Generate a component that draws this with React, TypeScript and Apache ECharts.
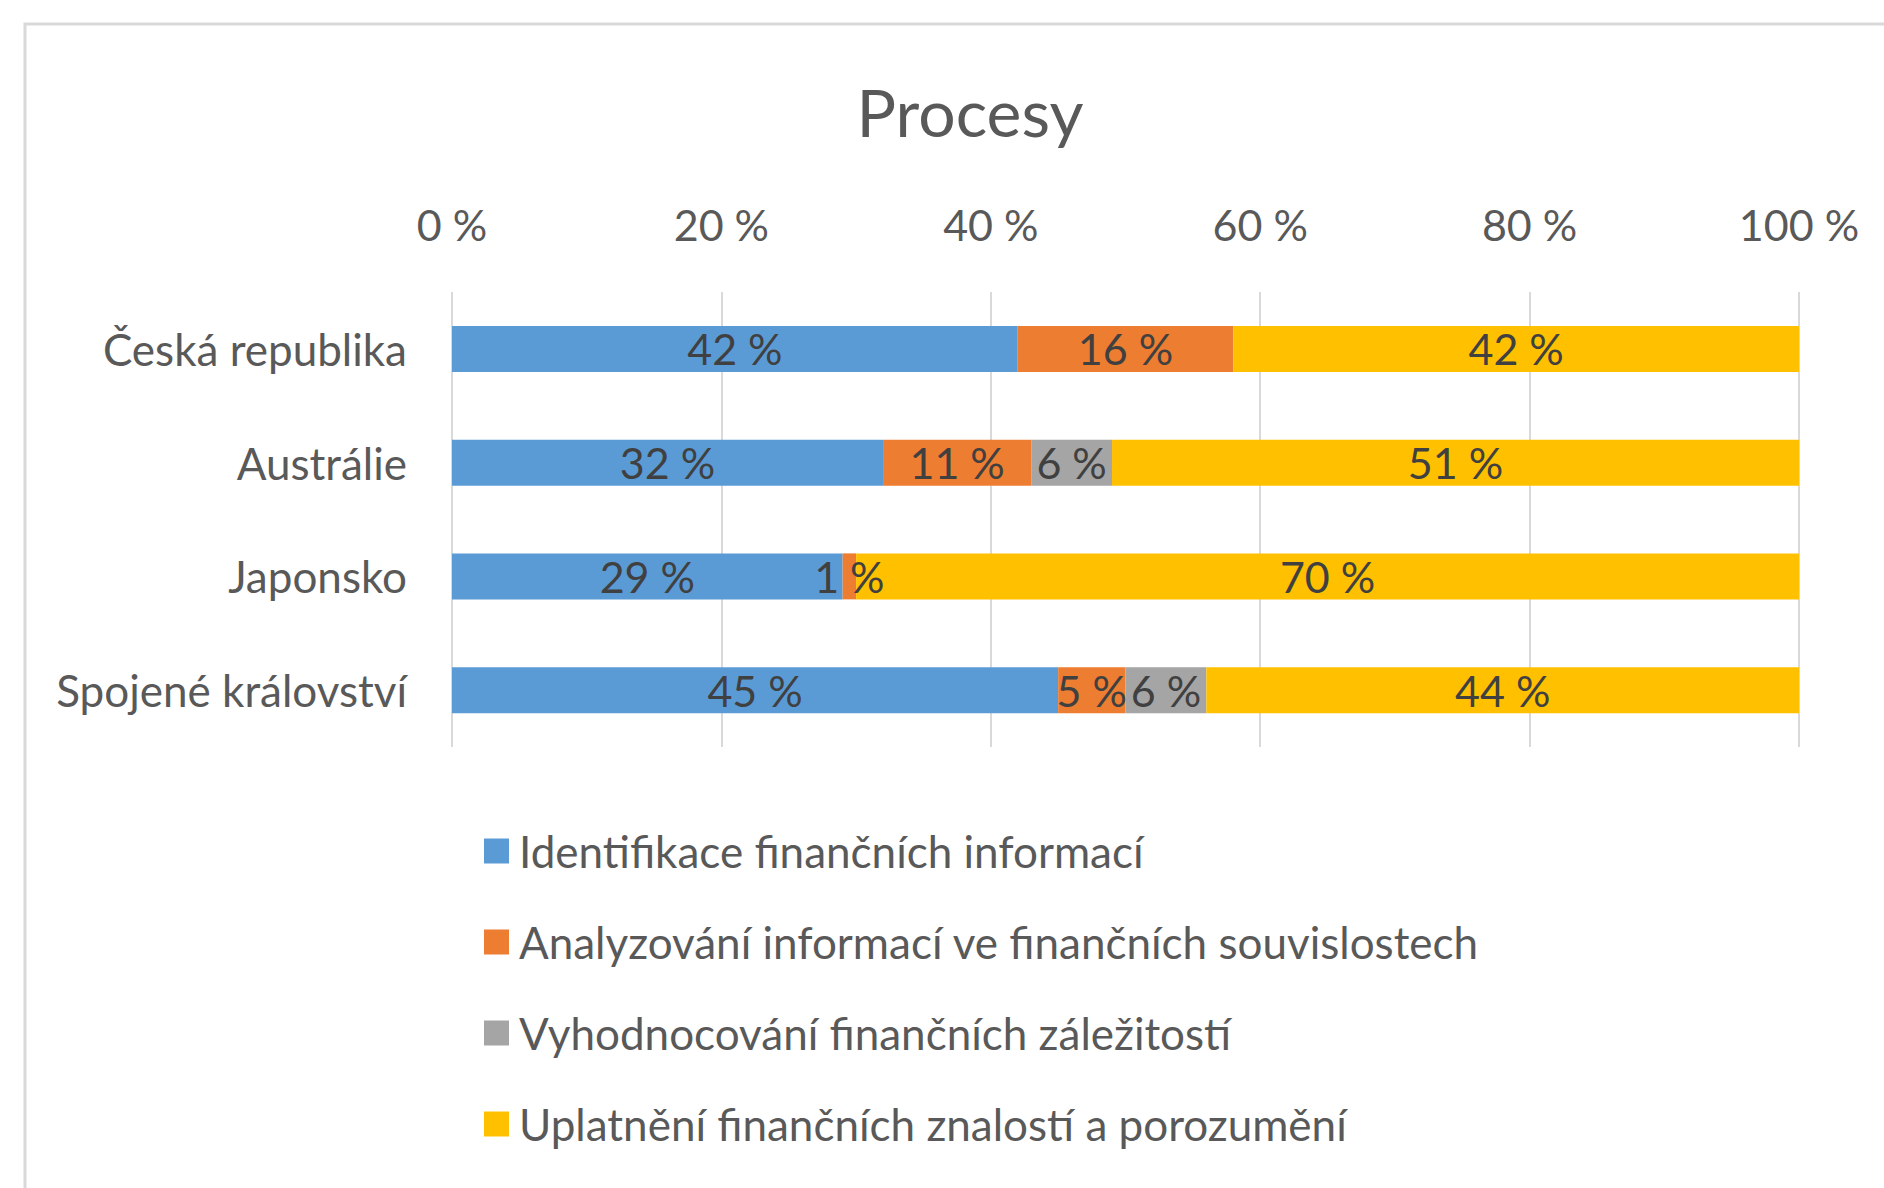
import React, { useEffect, useRef } from "react";
import * as echarts from "echarts";

const categories = ["Česká republika", "Austrálie", "Japonsko", "Spojené království"];
const seriesNames = [
  "Identifikace finančních informací",
  "Analyzování informací ve finančních souvislostech",
  "Vyhodnocování finančních záležitostí",
  "Uplatnění finančních znalostí a porozumění",
];
const identifikace = [42, 32, 29, 45];
const analyzovani = [16, 11, 1, 5];
const vyhodnocovani = [0, 6, 0, 6];
const uplatneni = [42, 51, 70, 44];
const colors = ["#5B9BD5", "#ED7D31", "#A5A5A5", "#FFC000"];
const titleText = "Procesy";

const FONT = "Lato";

export default function App() {
  const ref = useRef<HTMLDivElement>(null);
  useEffect(() => {
    document.body.style.margin = "0";
    if (!ref.current) return;
    const chart = echarts.init(ref.current, undefined, { renderer: "svg" });
    const values = [identifikace, analyzovani, vyhodnocovani, uplatneni];
    chart.setOption({
      animation: false,
      backgroundColor: "#ffffff",
      textStyle: { fontFamily: FONT },
      graphic: [
        {
          type: "rect",
          shape: { x: 25, y: 24, width: 2000, height: 1400 },
          style: { fill: "none", stroke: "#d9d9d9", lineWidth: 3 },
          silent: true,
        },
        {
          type: "text",
          x: 970,
          y: 111,
          style: {
            text: titleText,
            font: `66px ${FONT}`,
            fill: "#595959",
            textAlign: "center",
            textVerticalAlign: "middle",
          },
        },
      ],
      grid: { left: 452, top: 292, width: 1347, height: 455 },
      xAxis: {
        type: "value",
        position: "top",
        min: 0,
        max: 100,
        interval: 20,
        axisLine: { show: false },
        axisTick: { show: false },
        axisLabel: {
          formatter: "{value} %",
          color: "#595959",
          fontSize: 43,
          fontFamily: FONT,
          margin: 46,
        },
        splitLine: { lineStyle: { color: "#d9d9d9", width: 2 } },
      },
      yAxis: {
        type: "category",
        data: categories,
        inverse: true,
        axisLine: { show: false },
        axisTick: { show: false },
        axisLabel: { color: "#595959", fontSize: 44, fontFamily: FONT, margin: 45 },
      },
      legend: {
        orient: "vertical",
        left: 479,
        top: 821,
        icon: "rect",
        itemWidth: 25,
        itemHeight: 25,
        itemGap: 41,
        textStyle: {
          color: "#595959",
          fontSize: 44,
          fontFamily: FONT,
          lineHeight: 50,
          padding: [0, 0, 0, 5],
        },
        data: seriesNames,
      },
      series: seriesNames.map((name, i) => ({
        name,
        type: "bar",
        stack: "total",
        barWidth: 46,
        itemStyle: { color: colors[i] },
        label: {
          show: true,
          position: "inside",
          color: "#404040",
          fontSize: 43,
          fontFamily: FONT,
          formatter: (p: any) => (p.value ? `${p.value} %` : ""),
        },
        data: values[i],
      })),
    });
    return () => chart.dispose();
  }, []);
  return <div ref={ref} style={{ width: 1884, height: 1188 }} />;
}
